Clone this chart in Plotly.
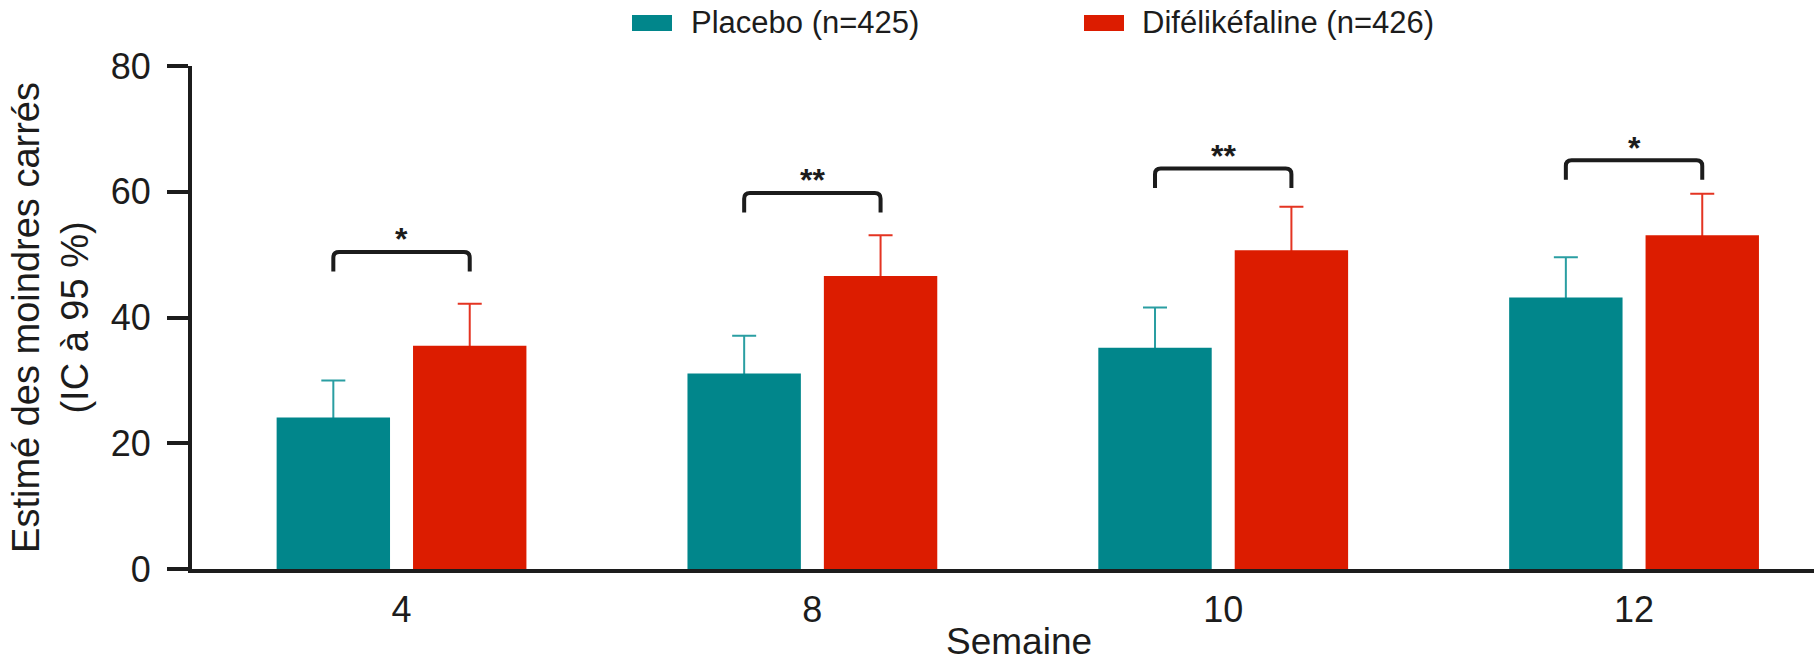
import plotly.graph_objects as go

# ---- data ----
weeks = ["4", "8", "10", "12"]
series_names = ["Placebo (n=425)", "Difélikéfaline (n=426)"]
placebo = [24.1, 31.1, 35.2, 43.2]
placebo_upper = [30.0, 37.1, 41.6, 49.6]
difel = [35.5, 46.6, 50.7, 53.1]
difel_upper = [42.2, 53.1, 57.6, 59.7]
bracket_top = [50.4, 59.8, 63.7, 65.0]
stars = ["*", "**", "**", "*"]
y_ticks = [0, 20, 40, 60, 80]
x_title = "Semaine"
y_title = "Estimé des moindres carrés<br>(IC à 95 %)"

# ---- style ----
TEAL = "#01868b"
RED = "#dc1c00"
TEAL_ERR = "#2a9ea2"
RED_ERR = "#e43422"
INK = "#1c1c1c"
FONT = "Liberation Sans, Arial, Helvetica, sans-serif"

W, H = 1814, 665
ML, MR, MT, MB = 192, 0, 66, 96
PLOT_W = W - ML - MR
PLOT_H = H - MT - MB

pos = list(range(len(weeks)))
BAR_W = 0.276
OFF_P = -0.304
OFF_D = 0.028
LEG = 3.1      # bracket leg length (data units)
STAR_GAP = 3.15
RX, RY = 0.014, 0.9   # bracket corner radius

fig = go.Figure()

# error bars first (on transparent bars), so the real bars hide the lower stem
for vals, upper, off, ecol, name in [
    (placebo, placebo_upper, OFF_P, TEAL_ERR, series_names[0]),
    (difel, difel_upper, OFF_D, RED_ERR, series_names[1]),
]:
    fig.add_bar(
        x=pos, y=vals, width=BAR_W, offset=off, name=name + " IC",
        marker=dict(color="rgba(0,0,0,0)", line_width=0),
        error_y=dict(type="data", symmetric=False,
                     array=[u - v for u, v in zip(upper, vals)],
                     arrayminus=vals,
                     color=ecol, thickness=2, width=12),
        hoverinfo="skip",
    )

fig.add_bar(x=pos, y=placebo, name=series_names[0], width=BAR_W, offset=OFF_P,
            marker=dict(color=TEAL, line_width=0))
fig.add_bar(x=pos, y=difel, name=series_names[1], width=BAR_W, offset=OFF_D,
            marker=dict(color=RED, line_width=0))

shapes = []
annotations = []
for i, x in enumerate(pos):
    xl = x + OFF_P + BAR_W / 2
    xr = x + OFF_D + BAR_W / 2
    yt = bracket_top[i]
    yb = yt - LEG
    path = (f"M {xl},{yb} L {xl},{yt - RY} Q {xl},{yt} {xl + RX},{yt} "
            f"L {xr - RX},{yt} Q {xr},{yt} {xr},{yt - RY} L {xr},{yb}")
    shapes.append(dict(type="path", path=path, xref="x", yref="y",
                       line=dict(color=INK, width=4)))
    annotations.append(dict(x=(xl + xr) / 2, y=yt + STAR_GAP, xref="x", yref="y",
                            text="<b>" + stars[i] + "</b>", showarrow=False,
                            yanchor="middle", yshift=-7,
                            font=dict(size=32, color=INK)))


def px_x(v):
    return (v - ML) / PLOT_W


def px_y(v):
    return (H - MB - v) / PLOT_H


# custom legend (wide swatches like the reference)
legend_items = [(632, 672, 689, TEAL), (1084, 1124, 1140, RED)]
for (x0, x1, xt, col), name in zip(legend_items, series_names):
    shapes.append(dict(type="rect", xref="paper", yref="paper",
                       x0=px_x(x0), x1=px_x(x1), y0=px_y(31), y1=px_y(15),
                       fillcolor=col, line_width=0))
    annotations.append(dict(x=px_x(xt), y=px_y(23), xref="paper", yref="paper",
                            text=name, showarrow=False, xanchor="left",
                            yanchor="middle", font=dict(size=31, color=INK)))

# x-axis title (slightly right of the plot-area centre, as in the reference)
annotations.append(dict(x=px_x(1019), y=px_y(641), xref="paper", yref="paper",
                        text=x_title, showarrow=False, xanchor="center",
                        yanchor="middle", font=dict(size=37, color=INK)))

fig.update_layout(
    width=W, height=H,
    margin=dict(l=ML, r=MR, t=MT, b=MB, autoexpand=False),
    plot_bgcolor="white", paper_bgcolor="white",
    barmode="overlay", showlegend=False,
    font=dict(family=FONT, size=36, color=INK),
    shapes=shapes, annotations=annotations,
)
fig.update_xaxes(
    range=[-0.51, 3.438], tickvals=pos, ticktext=weeks,
    showline=True, linewidth=4, linecolor=INK, ticks="",
    showgrid=False, zeroline=False, automargin=False,
    tickfont=dict(size=36, color=INK), ticklabelstandoff=6,
)
fig.update_yaxes(
    range=[0, 80], tickvals=y_ticks,
    showline=True, linewidth=4, linecolor=INK,
    ticks="outside", ticklen=21, tickwidth=4, tickcolor=INK,
    showgrid=False, zeroline=False, automargin=False,
    tickfont=dict(size=36, color=INK), ticklabelstandoff=9,
    title=dict(text=y_title, font=dict(size=38, color=INK), standoff=11),
)

fig.write_html(
    "out.html",
    config={"displayModeBar": False},
    post_script="document.body.style.margin='0px';document.body.style.overflow='hidden';",
)
